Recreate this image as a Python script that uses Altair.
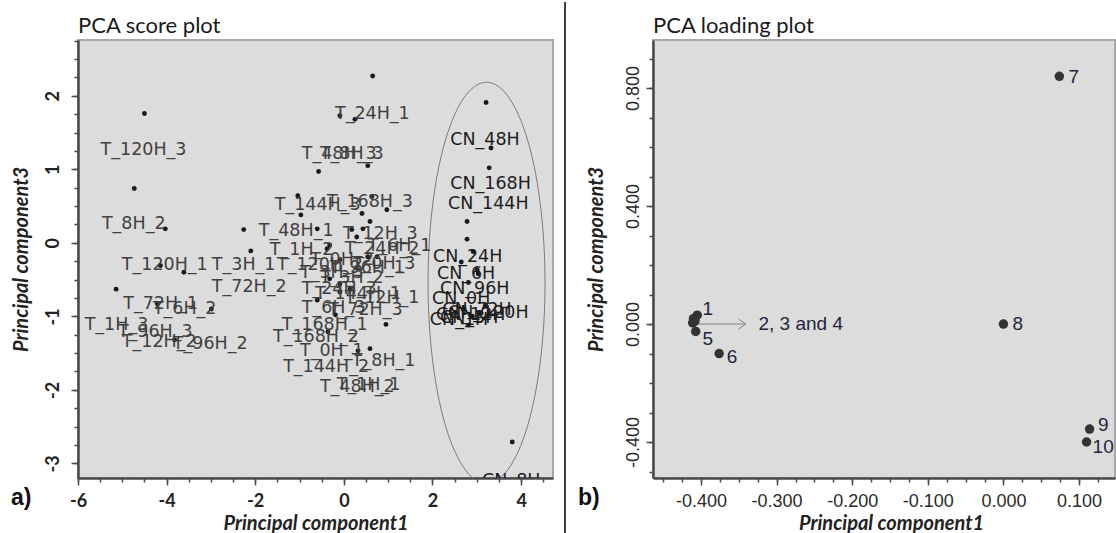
import altair as alt
import pandas as pd

# ---------------- Panel a) PCA score plot ----------------
score_dot_pc1 = [-4.50, -4.73, -4.03, -2.26, -2.10, -1.04, -0.97, -0.57, -4.14, -3.61,
                 0.65, -0.09, 0.25, 0.54, 3.21, 3.32, 3.28, 2.78, 2.78, 0.63,
                 0.41, 0.97, 0.59, -0.60, 0.43, 0.18, 2.92, 3.01, 2.65, -0.32,
                 0.29, 0.75, -0.60, -0.19, 0.95, -0.36, 0.59, 0.32, -5.14, -4.21,
                 -2.99, -3.82, 3.80, 3.03, 2.81, 2.81, 2.70, 3.05, 2.90, 3.20,
                 -0.38, -0.09, 0.54, -0.32, -0.09, 0.14, -0.09]
score_dot_pc3 = [1.76, 0.74, 0.19, 0.18, -0.11, 0.64, 0.38, 0.97, -0.31, -0.40,
                 2.27, 1.73, 1.68, 1.05, 1.91, 1.29, 1.02, 0.29, 0.05, 0.63,
                 0.40, 0.45, 0.29, 0.19, 0.19, 0.18, -0.12, -0.37, -0.26, -0.03,
                 0.08, -0.19, -0.78, -0.98, -1.11, -1.21, -1.44, -1.47, -0.63, -0.83,
                 -0.90, -1.32, -2.71, -0.42, -0.54, -1.12, -0.90, -0.95, -1.00, -0.85,
                 -0.08, -0.23, -0.19, -0.49, -0.56, -0.63, -0.67]

score_label_text = ["T_120H_3", "T_8H_2", "T_24H_1", "T_48H_3", "T_8H_3", "T_144H_3",
                    "T_168H_3", "T_48H_1", "T_12H_3", "T_1H_2", "T_24H_2", "T_6H_1",
                    "T_120H_1", "T_3H_1", "T_120H_2", "T_3H_3", "T_96H_1", "T_72H_2",
                    "T_24H_3", "T_12H_1", "T_6H_3", "T_72H_3", "T_72H_1", "T_6H_2",
                    "T_1H_3", "T_96H_3", "T_12H_2", "T_96H_2", "T_168H_1", "T_168H_2",
                    "T_0H_1", "T_8H_1", "T_144H_2", "T_48H_2", "T_1H_1", "T_0H_2",
                    "T_3H_2", "T_0H_3", "T_144H_1",
                    "CN_48H", "CN_168H", "CN_144H", "CN_24H", "CN_6H", "CN_96H",
                    "CN_0H", "CN_72H", "CN_120H", "CN_12H", "CN_1H", "CN_3H", "CN_8H"]
score_label_pc1 = [-5.49, -5.46, -0.20, -0.95, -0.54, -1.56,
                   -0.38, -1.92, -0.02, -1.67, 0.02, 0.54,
                   -5.01, -2.98, -1.51, -0.99, -0.31, -2.98,
                   -0.95, 0.02, -0.95, -0.36, -4.98, -4.31,
                   -5.85, -5.10, -5.01, -3.86, -1.40, -1.60,
                   -0.99, 0.18, -1.37, -0.54, -0.16, -0.76,
                   -0.54, 0.18, -0.65,
                   2.40, 2.40, 2.35, 2.01, 2.10, 2.17,
                   1.99, 2.22, 2.35, 2.08, 1.94, 2.17, 3.12]
score_label_pc3 = [1.26, 0.26, 1.75, 1.21, 1.21, 0.52,
                   0.56, 0.16, 0.12, -0.10, -0.08, -0.04,
                   -0.30, -0.30, -0.30, -0.41, -0.34, -0.60,
                   -0.63, -0.75, -0.89, -0.92, -0.83, -0.90,
                   -1.12, -1.22, -1.35, -1.38, -1.12, -1.28,
                   -1.47, -1.61, -1.69, -1.96, -1.94, -0.24,
                   -0.48, -0.29, -0.70,
                   1.40, 0.80, 0.53, -0.19, -0.42, -0.63,
                   -0.77, -0.92, -0.96, -0.98, -1.05, -1.02, -3.24]

# confidence ellipse around the CN samples: centre and half-axes
ellipse_centre = [3.22, -0.545]
ellipse_halfaxes = [1.32, 2.73]

# ---------------- Panel b) PCA loading plot ----------------
loading_id = ["1", "2", "3", "4", "5", "6", "7", "8", "9", "10"]
loading_pc1 = [-0.405, -0.410, -0.411, -0.408, -0.407, -0.376, 0.074, 0.000, 0.114, 0.110]
loading_pc3 = [0.030, 0.018, 0.004, 0.010, -0.025, -0.100, 0.840, 0.000, -0.356, -0.400]

loading_label_text = ["1", "5", "6", "7", "8", "9", "10", "2, 3 and 4"]
loading_label_pc1 = [-0.398, -0.398, -0.366, 0.086, 0.012, 0.125, 0.118, -0.324]
loading_label_pc3 = [0.050, -0.050, -0.112, 0.836, 0.000, -0.342, -0.418, 0.000]

arrow_pc1 = [-0.403, -0.341]
arrow_pc3 = [0.0, 0.0]

# ---------------- tables ----------------
dots_a = pd.DataFrame({"pc1": score_dot_pc1, "pc3": score_dot_pc3})
labels_a = pd.DataFrame({"label": score_label_text, "pc1": score_label_pc1, "pc3": score_label_pc3})
dots_b = pd.DataFrame({"id": loading_id, "pc1": loading_pc1, "pc3": loading_pc3})
labels_b = pd.DataFrame({"label": loading_label_text, "pc1": loading_label_pc1, "pc3": loading_label_pc3})
arrow_b = pd.DataFrame({"x1": [arrow_pc1[0]], "x2": [arrow_pc1[1]], "y": [arrow_pc3[0]]})
tip_b = pd.DataFrame({"pc1": [arrow_pc1[1]], "pc3": [arrow_pc3[1]]})
one = pd.DataFrame({"k": [0]})

W_A, W_B, H = 475, 462, 438

xs_a = alt.Scale(domain=[-6.0, 4.72], nice=False, zero=False)
ys_a = alt.Scale(domain=[-3.2, 2.76], nice=False, zero=False)
xs_b = alt.Scale(domain=[-0.4635, 0.1476], nice=False, zero=False)
ys_b = alt.Scale(domain=[-0.522, 0.963], nice=False, zero=False)


def lab_expr(fmt):
    return f"datum.value < 0 ? '-' + format(-datum.value, '{fmt}') : format(datum.value, '{fmt}')"


AX = dict(domainColor="#4a4a4a", domainWidth=2.5, tickColor="#4a4a4a", tickWidth=1.5,
          grid=False, labelOverlap=False, labelFlush=False)
TITLE = dict(titleFont="Lato", titleFontSize=20, titleFontWeight="bold",
             titleFontStyle="italic", titleColor="#222222")


def minor_axis(orient, vals):
    return alt.Axis(orient=orient, values=vals, labels=False, domain=False, ticks=True,
                    tickSize=4, tickColor="#4a4a4a", tickWidth=1.5, grid=False, title=None)


minor_x_a = [round(-6 + 0.5 * i, 3) for i in range(22)]
minor_y_a = [round(-3 + 0.25 * i, 3) for i in range(24)]
minor_x_b = [round(-0.45 + 0.025 * i, 4) for i in range(25)]
minor_y_b = [round(-0.5 + 0.1 * i, 3) for i in range(15)]

# ---------------- panel a ----------------
a_dots = alt.Chart(dots_a).mark_circle(size=24, color="#1a1a1a", opacity=1).encode(
    x=alt.X("pc1:Q", scale=xs_a, axis=minor_axis("bottom", minor_x_a)),
    y=alt.Y("pc3:Q", scale=ys_a, axis=minor_axis("left", minor_y_a)),
)

a_labels = alt.Chart(labels_a).mark_text(
    align="left", baseline="middle", font="DejaVu Sans", fontSize=17.5, clip=True
).encode(
    x=alt.X("pc1:Q", scale=xs_a, axis=alt.Axis(
        orient="bottom", values=[-6, -4, -2, 0, 2, 4], labelExpr=lab_expr("d"),
        tickSize=7, labelPadding=7, labelFont="Lato", labelFontSize=18,
        labelFontWeight="bold", labelColor="#222222",
        title="Principal component1", titleX=W_A / 2, titleY=55, titleAlign="center",
        titleBaseline="bottom", **TITLE, **AX)),
    y=alt.Y("pc3:Q", scale=ys_a, axis=alt.Axis(
        orient="left", values=[-3, -2, -1, 0, 1, 2], labelExpr=lab_expr("d"),
        labelAngle=270, labelAlign="center", labelBaseline="bottom",
        tickSize=7, labelPadding=9, labelFont="Lato", labelFontSize=18,
        labelFontWeight="bold", labelColor="#222222",
        title="Principal component3", titleX=-57, titleY=H / 2, titleAngle=270,
        titleAlign="center", titleBaseline="middle", **TITLE, **AX)),
    text="label:N",
    color=alt.condition("indexof(datum.label, 'CN') === 0", alt.value("#1c1c1c"), alt.value("#404040")),
)

a_ellipse = alt.Chart(alt.sequence(0, 361, 3, as_="t")).transform_calculate(
    pc1=f"{ellipse_centre[0]} + {ellipse_halfaxes[0]} * cos(datum.t * PI / 180)",
    pc3=f"{ellipse_centre[1]} + {ellipse_halfaxes[1]} * sin(datum.t * PI / 180)",
).mark_line(color="#7a7a7a", strokeWidth=1, clip=True).encode(
    x=alt.X("pc1:Q", scale=xs_a, axis=None),
    y=alt.Y("pc3:Q", scale=ys_a, axis=None),
    order="t:Q",
)

a_title = alt.Chart(one).mark_text(
    text="PCA score plot", align="left", baseline="alphabetic", font="Lato",
    fontSize=22, color="#1a1a1a").encode(x=alt.value(0), y=alt.value(-7))
a_tag = alt.Chart(one).mark_text(
    text="a)", align="left", baseline="alphabetic", font="Liberation Sans",
    fontSize=23, fontWeight="bold", color="#111111").encode(x=alt.value(-67), y=alt.value(465))
a_divider = alt.Chart(one).mark_rule(color="#000000", strokeWidth=1.5).encode(
    x=alt.value(487), y=alt.value(-38), y2=alt.value(495))

panel_a = alt.layer(a_ellipse, a_dots, a_labels, a_title, a_tag, a_divider).resolve_axis(
    x="independent", y="independent").properties(width=W_A, height=H)

# ---------------- panel b ----------------
b_arrow = alt.Chart(arrow_b).mark_rule(color="#808080", strokeWidth=1).encode(
    x=alt.X("x1:Q", scale=xs_b, axis=None), x2="x2:Q",
    y=alt.Y("y:Q", scale=ys_b, axis=None))
b_tip = alt.Chart(tip_b).mark_point(
    shape="M-1.4,-1L0,0L-1.4,1", filled=False, size=100, color="#808080",
    strokeWidth=1, opacity=1).encode(
    x=alt.X("pc1:Q", scale=xs_b, axis=None), y=alt.Y("pc3:Q", scale=ys_b, axis=None))

b_dots = alt.Chart(dots_b).mark_circle(size=90, color="#333333", opacity=1).encode(
    x=alt.X("pc1:Q", scale=xs_b, axis=minor_axis("bottom", minor_x_b)),
    y=alt.Y("pc3:Q", scale=ys_b, axis=minor_axis("left", minor_y_b)),
)

b_labels = alt.Chart(labels_b).mark_text(
    align="left", baseline="middle", font="Liberation Sans", fontSize=19, color="#24243c"
).encode(
    x=alt.X("pc1:Q", scale=xs_b, axis=alt.Axis(
        orient="bottom", values=[-0.4, -0.3, -0.2, -0.1, 0.0, 0.1], labelExpr=lab_expr(".3f"),
        tickSize=7, labelPadding=7, labelFont="Liberation Sans", labelFontSize=18,
        labelColor="#2a2a2a",
        title="Principal component1", titleX=238, titleY=55, titleAlign="center",
        titleBaseline="bottom", **TITLE, **AX)),
    y=alt.Y("pc3:Q", scale=ys_b, axis=alt.Axis(
        orient="left", values=[-0.4, 0.0, 0.4, 0.8], labelExpr=lab_expr(".3f"),
        labelAngle=270, labelAlign="center", labelBaseline="bottom",
        tickSize=7, labelPadding=4, labelFont="Liberation Sans", labelFontSize=18,
        labelColor="#2a2a2a",
        title="Principal component3", titleX=-57, titleY=H / 2, titleAngle=270,
        titleAlign="center", titleBaseline="middle", **TITLE, **AX)),
    text="label:N",
)

b_title = alt.Chart(one).mark_text(
    text="PCA loading plot", align="left", baseline="alphabetic", font="Lato",
    fontSize=22, color="#1a1a1a").encode(x=alt.value(0), y=alt.value(-7))
b_tag = alt.Chart(one).mark_text(
    text="b)", align="left", baseline="alphabetic", font="Liberation Sans",
    fontSize=23, fontWeight="bold", color="#111111").encode(x=alt.value(-75), y=alt.value(465))

panel_b = alt.layer(b_arrow, b_tip, b_dots, b_labels, b_title, b_tag).resolve_axis(
    x="independent", y="independent").properties(width=W_B, height=H)

chart = alt.hconcat(panel_a, panel_b, spacing=100, bounds="flush").properties(
    padding={"left": 10, "top": 0, "right": 0, "bottom": 0},
    background="#ffffff",
).configure_view(fill="#dcdcdc", stroke="#a8a8a8", strokeWidth=2)

chart.save("out.html", embed_options={"renderer": "svg", "actions": False})
